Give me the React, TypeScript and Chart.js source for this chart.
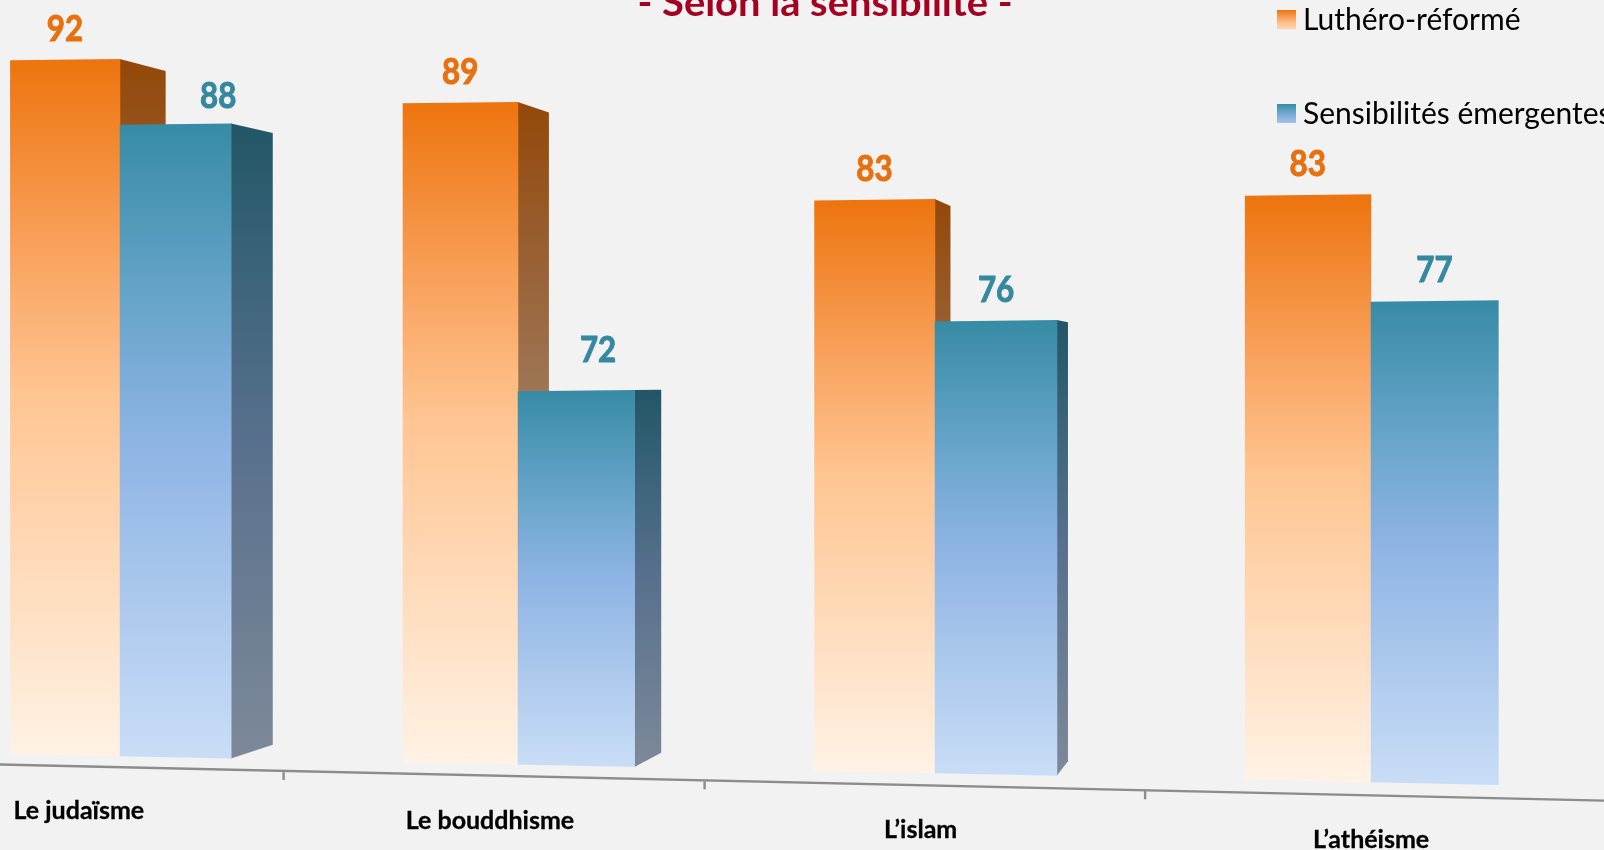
import React, { useEffect, useRef } from "react";
import { Chart, registerables } from "chart.js";

Chart.register(...registerables);

const categories = ["Le judaïsme", "Le bouddhisme", "L’islam", "L’athéisme"];
const lutheroReforme = [92, 89, 83, 83];
const sensibilitesEmergentes = [88, 72, 76, 77];
const seriesNames = ["Luthéro-réformé", "Sensibilités émergentes"];
const chartTitle = "- Selon la sensibilité -";

const FONT = "Lato, Carlito, Calibri, sans-serif";
const BG = "#F2F2F2";
const ORANGE = "#E8700E";
const TEAL = "#35899F";
const AXIS_MIN = 50;
const orangeStops: [number, number[]][] = [
  [0, [237, 116, 14]],
  [0.28, [249, 163, 95]],
  [0.48, [255, 197, 146]],
  [1, [255, 242, 229]],
];
const blueStops: [number, number[]][] = [
  [0, [55, 139, 165]],
  [0.26, [100, 163, 200]],
  [0.5, [142, 180, 228]],
  [1, [201, 221, 246]],
];

// Perspective of the 3D scene: a horizontal warp of the category scale, a depth
// scale for the heights, and a vanishing point for the side faces.
const warp = (u: number) => -72.1 + 0.9451 * u + 5.908e-5 * u * u;
const heightFactor = (x: number) => (16.5 + 9.6e-4 * x) / 16;
const floorY = (x: number) => 754 + 0.0208 * (x - 9);
const axisY = (x: number) => 764.5 + 0.0225 * x;
const VP = { x: 1360, y: 385, f: 0.037 };
const frontX = (x: number) => x - 0.033 * (VP.x - x);
const toVP = (x: number, y: number) => [x + VP.f * (VP.x - x), y + VP.f * (VP.y - y)];
const TOP_SLOPE = -0.012;

function geom(el: any) {
  const xl = warp(el.x - el.width / 2);
  const xr = warp(el.x + el.width / 2);
  const xc = (xl + xr) / 2;
  const h = (el.base - el.y) * heightFactor(xc);
  const top = floorY(xc) - h;
  return {
    xl, xr, xc, top,
    tl: top + TOP_SLOPE * (xl - xc),
    tr: top + TOP_SLOPE * (xr - xc),
    bl: floorY(xl),
    br: floorY(xr),
  };
}

function gradient(ctx: CanvasRenderingContext2D, y0: number, y1: number, stops: [number, number[]][], k = 1) {
  const g = ctx.createLinearGradient(0, y0, 0, y1);
  stops.forEach(([p, c]) => g.addColorStop(p, `rgb(${c[0] * k},${c[1] * k},${c[2] * k})`));
  return g;
}

function poly(ctx: CanvasRenderingContext2D, pts: number[][], fill: any) {
  ctx.fillStyle = fill;
  ctx.beginPath();
  pts.forEach(([x, y], i) => (i ? ctx.lineTo(x, y) : ctx.moveTo(x, y)));
  ctx.closePath();
  ctx.fill();
}

function squeezed(ctx: CanvasRenderingContext2D, text: string, x: number, y: number, sx: number, stroke = 0) {
  ctx.save();
  ctx.translate(x, y);
  ctx.scale(sx, 1);
  ctx.fillText(text, 0, 0);
  if (stroke) {
    ctx.strokeStyle = ctx.fillStyle;
    ctx.lineWidth = stroke;
    ctx.strokeText(text, 0, 0);
  }
  ctx.restore();
}

const scenePlugin = {
  id: "scene",
  beforeDatasetsDraw(chart: any) {
    const ctx = chart.ctx as CanvasRenderingContext2D;
    // slanted category axis
    ctx.save();
    ctx.strokeStyle = "#8C8C8C";
    ctx.lineWidth = 2.4;
    ctx.beginPath();
    ctx.moveTo(0, axisY(0));
    ctx.lineTo(1604, axisY(1604));
    const xs = chart.scales.x;
    for (let i = 1; i < categories.length; i++) {
      const u = (xs.getPixelForValue(i - 1) + xs.getPixelForValue(i)) / 2;
      const x = frontX(warp(u)) + 1.7;
      ctx.moveTo(x, axisY(x));
      ctx.lineTo(x, axisY(x) + 9);
    }
    ctx.stroke();
    // the two series, orange first so that the blue bar covers its side face
    chart.data.datasets.forEach((_: any, di: number) => {
      const stops = di === 0 ? orangeStops : blueStops;
      chart.getDatasetMeta(di).data.forEach((el: any) => {
        const g = geom(el);
        if (g.xr < VP.x) {
          const a = toVP(g.xr, g.tr);
          const b = toVP(g.xr, g.br);
          poly(ctx, [[g.xr, g.tr], a, b, [g.xr, g.br]], gradient(ctx, g.tr, g.br, stops, 0.62));
        }
        poly(ctx, [[g.xl, g.tl], [g.xr + 0.5, g.tr], [g.xr + 0.5, g.br], [g.xl, g.bl]], gradient(ctx, g.top, g.br, stops));
      });
    });
    ctx.restore();
  },
  beforeDatasetDraw() {
    return false;
  },
  afterDraw(chart: any) {
    const ctx = chart.ctx as CanvasRenderingContext2D;
    ctx.save();
    ctx.textAlign = "center";
    ctx.textBaseline = "middle";
    // value labels
    chart.data.datasets.forEach((ds: any, di: number) => {
      chart.getDatasetMeta(di).data.forEach((el: any, i: number) => {
        const g = geom(el);
        const depth = VP.f * (VP.x - g.xr);
        const dx = di === 1 ? Math.max(0, 1.39 * (depth - 11)) : 0;
        const dy = di === 1 && i === 1 ? 40 : di === 1 && i === 0 ? 28 : 30.5;
        ctx.fillStyle = di === 0 ? ORANGE : TEAL;
        ctx.font = `bold 36px ${FONT}`;
        squeezed(ctx, String(ds.data[i]), g.xc + dx, g.top - dy, 0.87, 1);
      });
    });
    // category labels
    const xs = chart.scales.x;
    ctx.fillStyle = "#000";
    ctx.font = `bold 25px ${FONT}`;
    categories.forEach((c, i) => {
      const x = frontX(warp(xs.getPixelForValue(i)));
      squeezed(ctx, c, x, axisY(x) + 45, 1, 0.3);
    });
    // title, cut off by the top of the picture
    ctx.fillStyle = "#A50021";
    ctx.font = `bold 38px ${FONT}`;
    ctx.textBaseline = "alphabetic";
    squeezed(ctx, chartTitle, 825, 16, 1.05);
    // legend
    ctx.textAlign = "left";
    ctx.font = `30px ${FONT}`;
    seriesNames.forEach((name, i) => {
      const y = 10 + 94 * i;
      const stops = i === 0 ? orangeStops : blueStops;
      ctx.fillStyle = gradient(ctx, y, y + 19 * 1.5, stops);
      ctx.fillRect(1277, y, 19, 19);
      ctx.fillStyle = "#000";
      squeezed(ctx, name, 1303, y + 19.5, 1);
    });
    ctx.restore();
  },
};

export default function App() {
  const ref = useRef<HTMLCanvasElement>(null);
  useEffect(() => {
    const canvas = ref.current!;
    const chart = new Chart(canvas, {
      type: "bar",
      plugins: [scenePlugin],
      data: {
        labels: categories,
        datasets: [
          { label: seriesNames[0], data: lutheroReforme, base: AXIS_MIN, backgroundColor: ORANGE, categoryPercentage: 0.5686, barPercentage: 1 },
          { label: seriesNames[1], data: sensibilitesEmergentes, base: AXIS_MIN, backgroundColor: TEAL, categoryPercentage: 0.5686, barPercentage: 1 },
        ],
      },
      options: {
        responsive: false,
        animation: false,
        layout: { padding: 0 },
        scales: {
          x: { display: false },
          y: { display: false, min: AXIS_MIN, max: AXIS_MIN + 850 / 16 },
        },
        plugins: {
          title: { display: false },
          tooltip: { enabled: false },
          legend: { display: false },
        },
      } as any,
    });
    return () => chart.destroy();
  }, []);
  return (
    <div style={{ position: "fixed", inset: 0, background: BG, overflow: "hidden" }}>
      <canvas ref={ref} width={1604} height={850} style={{ display: "block" }} />
    </div>
  );
}
